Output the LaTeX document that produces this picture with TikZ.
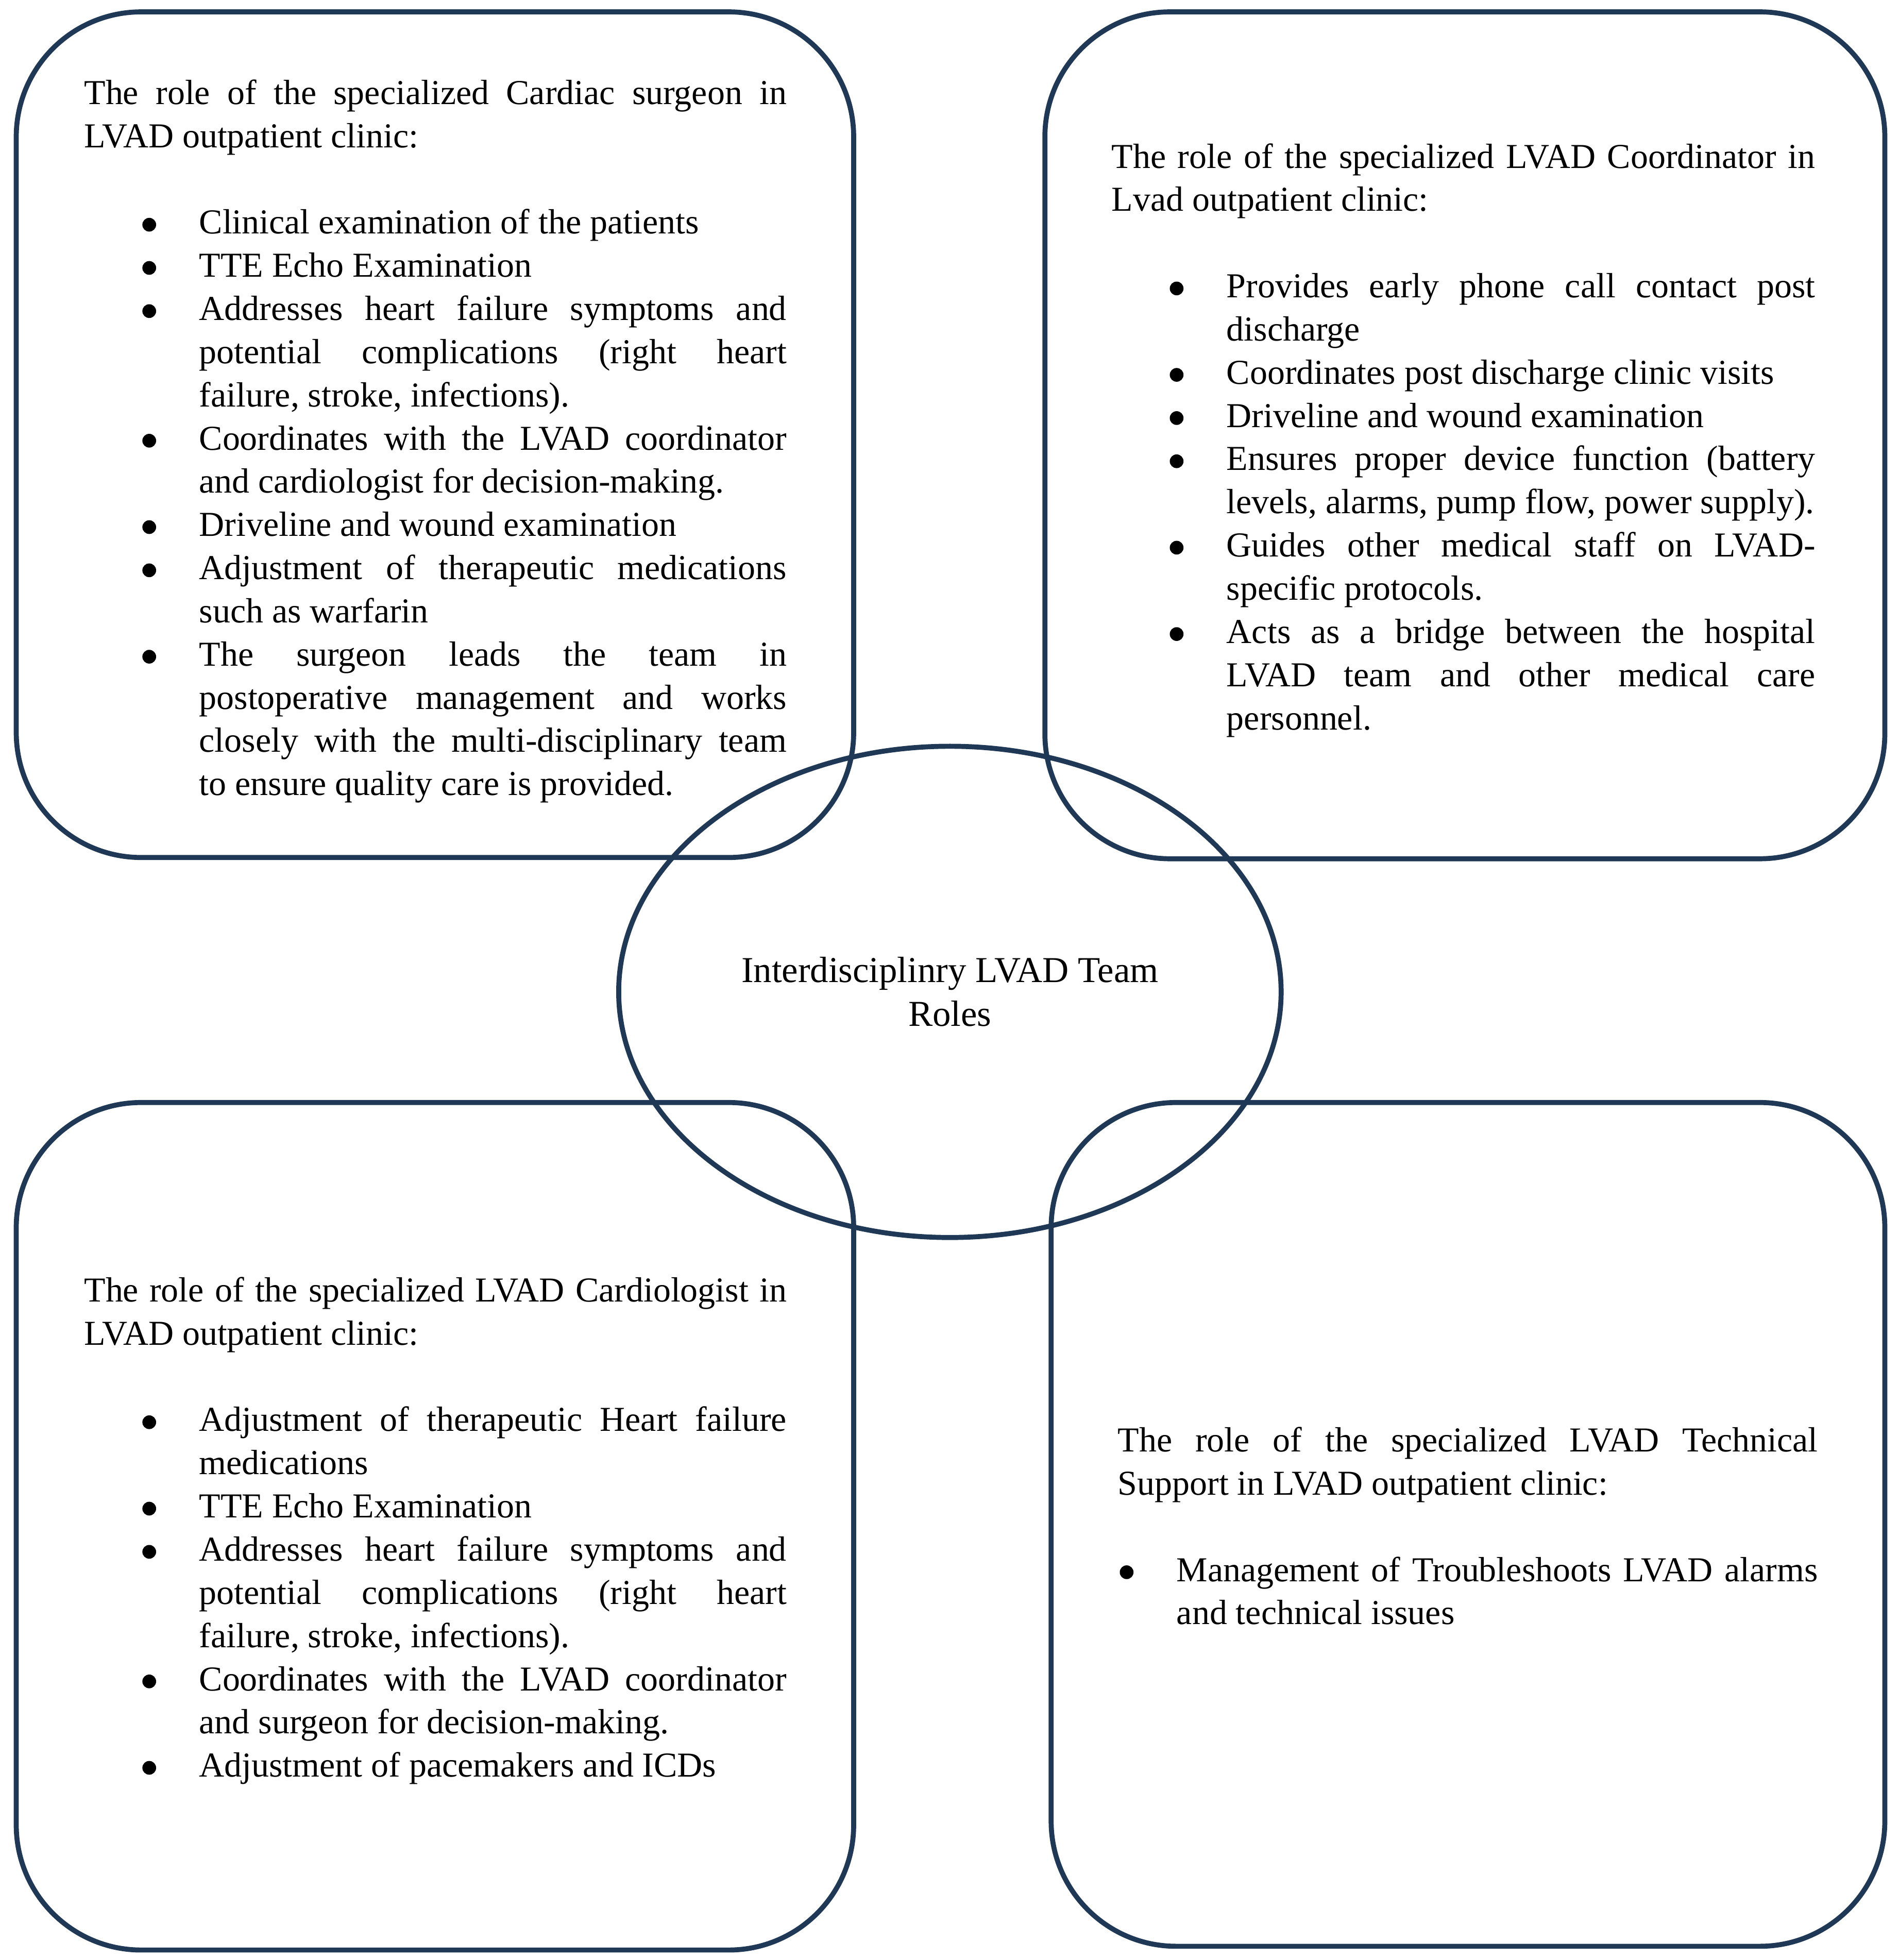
\documentclass[tikz,border=0pt]{standalone}
\usepackage{fontspec}
\setmainfont{Liberation Serif}
\usetikzlibrary{shapes.geometric}
\definecolor{navy}{HTML}{1F3855}
\newcommand\txtsetup{\parindent=0pt\parskip=0pt\tolerance=10000\hbadness=10000\hyphenpenalty=10000\exhyphenpenalty=10000\frenchspacing\spaceskip=0.25em plus 2em minus 0.09em\relax}
\newcommand\bdot{\raisebox{0.9pt}{\tikz\fill[black] (0pt,0pt) circle[radius=2.75pt];}}
\newcommand\bitem[1]{\par\noindent\hangindent=46pt\hangafter=1\makebox[46pt][l]{\hspace{26pt}\makebox[0pt]{\bdot}}#1}
\newcommand\bitemr[1]{\par\noindent\hangindent=23.5pt\hangafter=1\makebox[23.5pt][l]{\hspace{3.5pt}\makebox[0pt]{\bdot}}#1}
\begin{document}
\begin{tikzpicture}[x=0.5pt,y=-0.5pt,
  box/.style={draw=navy, line width=2pt, rounded corners=50pt},
  txt/.style={anchor=north west, inner sep=0pt, text width=281pt, align=justify, font=\fontsize{14}{17.28}\selectfont},
  hub/.style={draw=navy, line width=2pt, ellipse, inner sep=0pt, minimum width=265pt, minimum height=196.5pt, align=center, font=\fontsize{14.6}{17.5}\selectfont}]
\useasboundingbox (0,0) rectangle (1519,1568);
% boxes
\node[box, minimum width=335pt, minimum height=338.25pt] (tlbox) at (348,347.75) {};
\node[box, minimum width=336pt, minimum height=338.75pt] (trbox) at (1172,348.25) {};
\node[box, minimum width=335pt, minimum height=339pt] (blbox) at (348,1221) {};
\node[box, minimum width=333.5pt, minimum height=337.5pt] (brbox) at (1174.5,1219.5) {};
% centre ellipse
\node[hub] (hub) at (760,793.5) {Interdisciplinry LVAD Team\\Roles};
% texts
\node[txt] (tltxt) at (67,58.8) {\txtsetup\strut The role of the specialized Cardiac surgeon in\linebreak LVAD outpatient clinic:\par\vspace{17.28pt}%
\bitem{Clinical examination of the patients}%
\bitem{TTE Echo Examination}%
\bitem{Addresses heart failure symptoms and\linebreak potential complications (right heart\linebreak failure, stroke, infections).}%
\bitem{Coordinates with the LVAD coordinator\linebreak and cardiologist for decision-making.}%
\bitem{Driveline and wound examination}%
\bitem{Adjustment of therapeutic medications\linebreak such as warfarin}%
\bitem{The surgeon leads the team in\linebreak postoperative management and works\linebreak closely with the multi-disciplinary team\linebreak to ensure quality care is provided.}\par};
\node[txt, text width=281.5pt] (trtxt) at (889,109.8) {\txtsetup\strut The role of the specialized LVAD Coordinator in\linebreak Lvad outpatient clinic:\par\vspace{17.28pt}%
\bitem{Provides early phone call contact post\linebreak discharge}%
\bitem{Coordinates post discharge clinic visits}%
\bitem{Driveline and wound examination}%
\bitem{Ensures proper device function (battery\linebreak levels, alarms, pump flow, power supply).}%
\bitem{Guides other medical staff on LVAD-\linebreak specific protocols.}%
\bitem{Acts as a bridge between the hospital\linebreak LVAD team and other medical care\linebreak personnel.}\par};
\node[txt] (bltxt) at (67,1016.8) {\txtsetup\strut The role of the specialized LVAD Cardiologist in\linebreak LVAD outpatient clinic:\par\vspace{17.28pt}%
\bitem{Adjustment of therapeutic Heart failure\linebreak medications}%
\bitem{TTE Echo Examination}%
\bitem{Addresses heart failure symptoms and\linebreak potential complications (right heart\linebreak failure, stroke, infections).}%
\bitem{Coordinates with the LVAD coordinator\linebreak and surgeon for decision-making.}%
\bitem{Adjustment of pacemakers and ICDs}\par};
\node[txt, text width=280pt] (brtxt) at (894,1136.8) {\txtsetup\strut The role of the specialized LVAD Technical\linebreak Support in LVAD outpatient clinic:\par\vspace{17.28pt}%
\bitemr{Management of Troubleshoots LVAD alarms\linebreak and technical issues}\par};
\end{tikzpicture}
\end{document}
